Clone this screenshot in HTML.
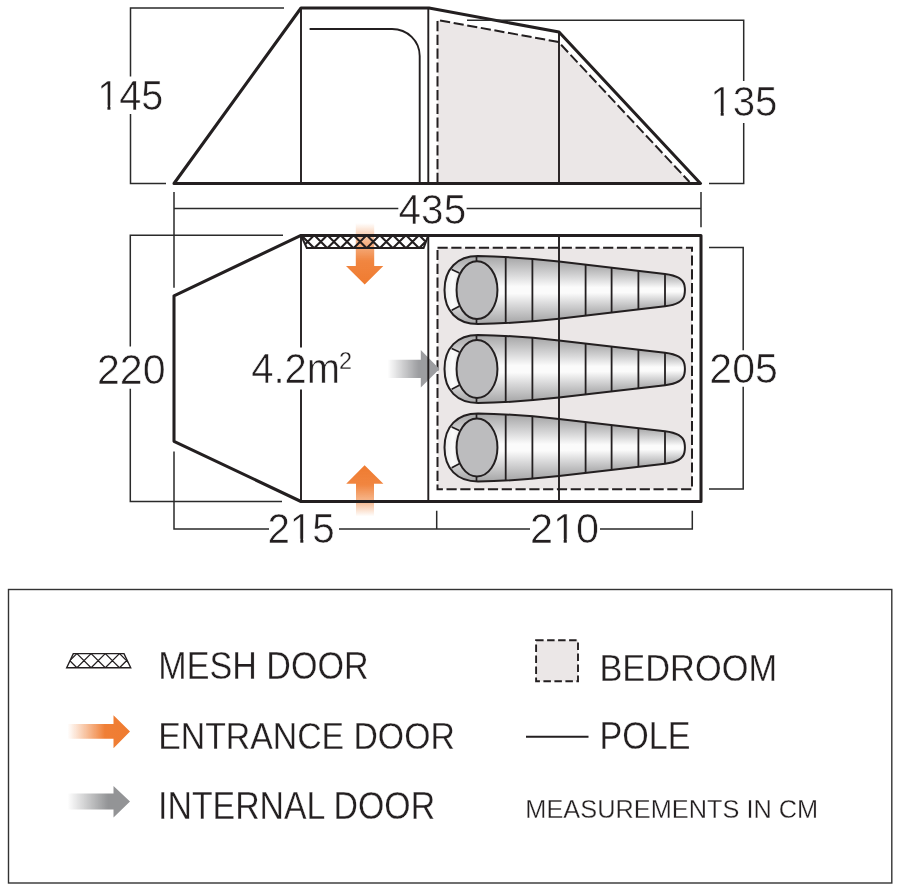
<!DOCTYPE html>
<html><head><meta charset="utf-8"><style>
html,body{margin:0;padding:0;background:#fff;width:900px;height:891px;overflow:hidden}
svg{display:block;will-change:transform}
</style></head><body>
<svg width="900" height="891" viewBox="0 0 900 891">
<defs>
<linearGradient id="bagg" x1="0" y1="0" x2="0" y2="1">
<stop offset="0" stop-color="#a2a2a3"/><stop offset="0.28" stop-color="#d8d8d9"/><stop offset="0.45" stop-color="#fbfbfb"/><stop offset="0.55" stop-color="#fbfbfb"/><stop offset="0.72" stop-color="#d8d8d9"/><stop offset="1" stop-color="#a2a2a3"/>
</linearGradient>
<linearGradient id="cresg" x1="0" y1="0" x2="1" y2="0">
<stop offset="0" stop-color="#e8e8e8"/><stop offset="0.6" stop-color="#fbfbfb"/><stop offset="1" stop-color="#f0f0f0"/>
</linearGradient>
<linearGradient id="orH" x1="0" y1="0" x2="1" y2="0">
<stop offset="0" stop-color="#f08640" stop-opacity="0"/><stop offset="0.6" stop-color="#f07f36" stop-opacity="1"/><stop offset="1" stop-color="#ef7b30"/>
</linearGradient>
<linearGradient id="grH" x1="0" y1="0" x2="1" y2="0">
<stop offset="0" stop-color="#939496" stop-opacity="0"/><stop offset="0.65" stop-color="#939496" stop-opacity="1"/><stop offset="1" stop-color="#939496"/>
</linearGradient>
<linearGradient id="orDown" x1="0" y1="0" x2="0" y2="1">
<stop offset="0" stop-color="#f08640" stop-opacity="0"/><stop offset="0.3" stop-color="#f08640" stop-opacity="0.6"/><stop offset="0.62" stop-color="#f07f36" stop-opacity="0.95"/><stop offset="1" stop-color="#ef7b30"/>
</linearGradient>
<linearGradient id="orUp" x1="0" y1="1" x2="0" y2="0">
<stop offset="0" stop-color="#f08640" stop-opacity="0"/><stop offset="0.3" stop-color="#f08640" stop-opacity="0.6"/><stop offset="0.62" stop-color="#f07f36" stop-opacity="0.95"/><stop offset="1" stop-color="#ef7b30"/>
</linearGradient>
<linearGradient id="grH2" x1="0" y1="0" x2="1" y2="0">
<stop offset="0" stop-color="#9c9da0" stop-opacity="0"/><stop offset="0.6" stop-color="#9c9da0" stop-opacity="1"/><stop offset="1" stop-color="#9c9da0"/>
</linearGradient>
<clipPath id="meshclip"><path d="M301,235.4 L428.3,235.4 L423.6,248 L306.8,248 Z"/></clipPath>
<clipPath id="meshclip2"><path d="M73.3,653.6 L124,653.6 L130.7,667.7 L66.7,667.7 Z"/></clipPath>
</defs>
<path d="M437.5,183.5 V20 L558.5,42 L691,183.5 Z" fill="#ebe7e7"/>
<path d="M437.5,183 V20 L558.5,42 L689.5,182" fill="none" stroke="#231f20" stroke-width="2" stroke-dasharray="10.2 3.6"/>
<path d="M301,8 V183.5 M428.3,8 V183.5 M559,32 V183.5 M309.6,29 H392 C407.5,29 419.7,41 419.7,56 V183.5" fill="none" stroke="#231f20" stroke-width="1.9"/>
<path d="M174,183.5 L301,8 H429 L559,32 L700.5,183.5 Z" fill="none" stroke="#231f20" stroke-width="3.05" stroke-linejoin="round"/>
<path d="M284,8 H130.5 V76.5 M130.5,114 V183.5 H166 M467,20.2 H743.7 V81 M743.7,123 V183.4 H709 M174,192 V226 M701,192 V227.2 M174,208.4 H398.3 M466.6,208.4 H701" fill="none" stroke="#2a2a2a" stroke-width="1.5"/>
<rect x="437.5" y="247.7" width="254.5" height="241.6" fill="#ebe7e7"/>
<rect x="437.5" y="247.7" width="254.5" height="241.6" fill="none" stroke="#231f20" stroke-width="2" stroke-dasharray="10.2 3.6"/>
<path d="M355.8,223 H374.2 V266 H383.3 L364.7,284.4 L346,266 H355.8 Z" fill="url(#orDown)"/>
<path d="M356,516.4 H374 V483.7 H383.4 L364.6,465.3 L346.2,483.7 H356 Z" fill="url(#orUp)"/>
<path d="M387.5,359.8 H420.8 V350.1 L439.5,369 L420.8,387.6 V378.1 H387.5 Z" fill="url(#grH2)"/>
<clipPath id="bc1"><path d="M478,256.1 C500,256.5 530,258.3 559,261.5 L665,273.90000000000003 C675,275.1 683,278.1 684.4,285.1 C685,288.1 685,292.1 684.4,295.1 C683,302.1 675,305.1 665,306.3 L559,318.70000000000005 C530,321.90000000000003 500,323.70000000000005 478,324.1 C457,324.1 444.5,311.1 444.5,290.1 C444.5,269.1 457,256.1 478,256.1 Z"/></clipPath>
<g clip-path="url(#bc1)"><rect x="440" y="255.1" width="65.7" height="70.0" fill="url(#bagg)"/><rect x="505.7" y="255.7" width="26.7" height="68.7" fill="url(#bagg)"/><rect x="532.4" y="257.5" width="26.6" height="65.1" fill="url(#bagg)"/><rect x="559" y="260.5" width="26.6" height="59.2" fill="url(#bagg)"/><rect x="585.6" y="263.6" width="26.0" height="53.0" fill="url(#bagg)"/><rect x="611.6" y="266.7" width="26.8" height="46.9" fill="url(#bagg)"/><rect x="638.4" y="269.8" width="26.6" height="40.6" fill="url(#bagg)"/><rect x="665" y="272.9" width="25.0" height="34.4" fill="url(#bagg)"/><path d="M451.7,269.5 L459.3,273.1 C452,282.1 452,298.1 459.3,306.3 L451.7,310.3 C440,300.1 440,280.1 451.7,269.5 Z" fill="url(#cresg)"/></g>
<path d="M478,256.1 C500,256.5 530,258.3 559,261.5 L665,273.90000000000003 C675,275.1 683,278.1 684.4,285.1 C685,288.1 685,292.1 684.4,295.1 C683,302.1 675,305.1 665,306.3 L559,318.70000000000005 C530,321.90000000000003 500,323.70000000000005 478,324.1 C457,324.1 444.5,311.1 444.5,290.1 C444.5,269.1 457,256.1 478,256.1 Z" fill="none" stroke="#231f20" stroke-width="2"/>
<ellipse cx="477" cy="290.1" rx="20.45" ry="28.95" fill="#bcbcbe" stroke="#231f20" stroke-width="2"/>
<path d="M451.7,269.5 L459.3,273.1 M451.7,310.3 L459.3,306.3 M476.5,256.1 V261.1 M476.5,319.1 V324.1" stroke="#231f20" stroke-width="1.7" fill="none"/>
<line x1="505.7" y1="256.7" x2="505.7" y2="323.5" stroke="#231f20" stroke-width="1.8"/>
<line x1="532.4" y1="258.5" x2="532.4" y2="321.7" stroke="#231f20" stroke-width="1.8"/>
<line x1="585.6" y1="264.6" x2="585.6" y2="315.6" stroke="#231f20" stroke-width="1.8"/>
<line x1="611.6" y1="267.7" x2="611.6" y2="312.5" stroke="#231f20" stroke-width="1.8"/>
<line x1="638.4" y1="270.8" x2="638.4" y2="309.4" stroke="#231f20" stroke-width="1.8"/>
<line x1="665" y1="273.9" x2="665" y2="306.3" stroke="#231f20" stroke-width="1.8"/>

<clipPath id="bc2"><path d="M478,335 C500,335.4 530,337.2 559,340.4 L665,352.8 C675,354 683,357 684.4,364 C685,367 685,371 684.4,374 C683,381 675,384 665,385.2 L559,397.6 C530,400.8 500,402.6 478,403 C457,403 444.5,390 444.5,369 C444.5,348 457,335 478,335 Z"/></clipPath>
<g clip-path="url(#bc2)"><rect x="440" y="334.0" width="65.7" height="70.0" fill="url(#bagg)"/><rect x="505.7" y="334.6" width="26.7" height="68.7" fill="url(#bagg)"/><rect x="532.4" y="336.4" width="26.6" height="65.1" fill="url(#bagg)"/><rect x="559" y="339.4" width="26.6" height="59.2" fill="url(#bagg)"/><rect x="585.6" y="342.5" width="26.0" height="53.0" fill="url(#bagg)"/><rect x="611.6" y="345.6" width="26.8" height="46.9" fill="url(#bagg)"/><rect x="638.4" y="348.7" width="26.6" height="40.6" fill="url(#bagg)"/><rect x="665" y="351.8" width="25.0" height="34.4" fill="url(#bagg)"/><path d="M451.7,348.4 L459.3,352 C452,361 452,377 459.3,385.2 L451.7,389.2 C440,379 440,359 451.7,348.4 Z" fill="url(#cresg)"/></g>
<path d="M478,335 C500,335.4 530,337.2 559,340.4 L665,352.8 C675,354 683,357 684.4,364 C685,367 685,371 684.4,374 C683,381 675,384 665,385.2 L559,397.6 C530,400.8 500,402.6 478,403 C457,403 444.5,390 444.5,369 C444.5,348 457,335 478,335 Z" fill="none" stroke="#231f20" stroke-width="2"/>
<ellipse cx="477" cy="369" rx="20.45" ry="28.95" fill="#bcbcbe" stroke="#231f20" stroke-width="2"/>
<path d="M451.7,348.4 L459.3,352 M451.7,389.2 L459.3,385.2 M476.5,335 V340 M476.5,398 V403" stroke="#231f20" stroke-width="1.7" fill="none"/>
<line x1="505.7" y1="335.6" x2="505.7" y2="402.4" stroke="#231f20" stroke-width="1.8"/>
<line x1="532.4" y1="337.4" x2="532.4" y2="400.6" stroke="#231f20" stroke-width="1.8"/>
<line x1="585.6" y1="343.5" x2="585.6" y2="394.5" stroke="#231f20" stroke-width="1.8"/>
<line x1="611.6" y1="346.6" x2="611.6" y2="391.4" stroke="#231f20" stroke-width="1.8"/>
<line x1="638.4" y1="349.7" x2="638.4" y2="388.3" stroke="#231f20" stroke-width="1.8"/>
<line x1="665" y1="352.8" x2="665" y2="385.2" stroke="#231f20" stroke-width="1.8"/>

<clipPath id="bc3"><path d="M478,413.5 C500,413.9 530,415.7 559,418.9 L665,431.3 C675,432.5 683,435.5 684.4,442.5 C685,445.5 685,449.5 684.4,452.5 C683,459.5 675,462.5 665,463.7 L559,476.1 C530,479.3 500,481.1 478,481.5 C457,481.5 444.5,468.5 444.5,447.5 C444.5,426.5 457,413.5 478,413.5 Z"/></clipPath>
<g clip-path="url(#bc3)"><rect x="440" y="412.5" width="65.7" height="70.0" fill="url(#bagg)"/><rect x="505.7" y="413.1" width="26.7" height="68.7" fill="url(#bagg)"/><rect x="532.4" y="414.9" width="26.6" height="65.1" fill="url(#bagg)"/><rect x="559" y="417.9" width="26.6" height="59.2" fill="url(#bagg)"/><rect x="585.6" y="421.0" width="26.0" height="53.0" fill="url(#bagg)"/><rect x="611.6" y="424.1" width="26.8" height="46.9" fill="url(#bagg)"/><rect x="638.4" y="427.2" width="26.6" height="40.6" fill="url(#bagg)"/><rect x="665" y="430.3" width="25.0" height="34.4" fill="url(#bagg)"/><path d="M451.7,426.9 L459.3,430.5 C452,439.5 452,455.5 459.3,463.7 L451.7,467.7 C440,457.5 440,437.5 451.7,426.9 Z" fill="url(#cresg)"/></g>
<path d="M478,413.5 C500,413.9 530,415.7 559,418.9 L665,431.3 C675,432.5 683,435.5 684.4,442.5 C685,445.5 685,449.5 684.4,452.5 C683,459.5 675,462.5 665,463.7 L559,476.1 C530,479.3 500,481.1 478,481.5 C457,481.5 444.5,468.5 444.5,447.5 C444.5,426.5 457,413.5 478,413.5 Z" fill="none" stroke="#231f20" stroke-width="2"/>
<ellipse cx="477" cy="447.5" rx="20.45" ry="28.95" fill="#bcbcbe" stroke="#231f20" stroke-width="2"/>
<path d="M451.7,426.9 L459.3,430.5 M451.7,467.7 L459.3,463.7 M476.5,413.5 V418.5 M476.5,476.5 V481.5" stroke="#231f20" stroke-width="1.7" fill="none"/>
<line x1="505.7" y1="414.1" x2="505.7" y2="480.9" stroke="#231f20" stroke-width="1.8"/>
<line x1="532.4" y1="415.9" x2="532.4" y2="479.1" stroke="#231f20" stroke-width="1.8"/>
<line x1="585.6" y1="422.0" x2="585.6" y2="473.0" stroke="#231f20" stroke-width="1.8"/>
<line x1="611.6" y1="425.1" x2="611.6" y2="469.9" stroke="#231f20" stroke-width="1.8"/>
<line x1="638.4" y1="428.2" x2="638.4" y2="466.8" stroke="#231f20" stroke-width="1.8"/>
<line x1="665" y1="431.3" x2="665" y2="463.7" stroke="#231f20" stroke-width="1.8"/>

<path d="M301,235.4 V347.6 M301,389.4 V501.5 M428.3,235.4 V501.5 M559,235.4 V501.5" fill="none" stroke="#231f20" stroke-width="1.9"/>
<path clip-path="url(#meshclip)" d="M288.00,235.10 L301.20,248.30 M288.00,248.30 L301.20,235.10 M301.10,235.10 L314.30,248.30 M301.10,248.30 L314.30,235.10 M314.20,235.10 L327.40,248.30 M314.20,248.30 L327.40,235.10 M327.30,235.10 L340.50,248.30 M327.30,248.30 L340.50,235.10 M340.40,235.10 L353.60,248.30 M340.40,248.30 L353.60,235.10 M353.50,235.10 L366.70,248.30 M353.50,248.30 L366.70,235.10 M366.60,235.10 L379.80,248.30 M366.60,248.30 L379.80,235.10 M379.70,235.10 L392.90,248.30 M379.70,248.30 L392.90,235.10 M392.80,235.10 L406.00,248.30 M392.80,248.30 L406.00,235.10 M405.90,235.10 L419.10,248.30 M405.90,248.30 L419.10,235.10 M419.00,235.10 L432.20,248.30 M419.00,248.30 L432.20,235.10 " fill="none" stroke="#231f20" stroke-width="2.1"/>
<path d="M301,235.4 L306.8,248 H423.6 L428.3,235.4" fill="none" stroke="#231f20" stroke-width="2"/>
<path d="M301,235.4 L174,295.8 V441.3 L301,501.5 H701 V235.4 Z" fill="none" stroke="#231f20" stroke-width="3.05" stroke-linejoin="round"/>
<path d="M283,235.3 H130.3 V346.5 M130.3,388.7 V501.4 H282 M174,226 V287.7 M174,451.6 V529 H269 M339,529 H530 M600,529 H692.3 V510.7 M436.7,510.7 V529 M709,247.6 H743.2 V350.2 M743.2,386.8 V489 H709" fill="none" stroke="#2a2a2a" stroke-width="1.5"/>
<g transform="translate(97.23,109.68) scale(0.9336,1)"><text font-size="42.43" fill="#231f20" stroke="#fff" stroke-width="0.6" font-family="Liberation Sans, sans-serif">145</text><rect x="2.12" y="-4.24" width="8.83" height="4.67" fill="#fff"/><rect x="14.13" y="-4.24" width="8.49" height="4.67" fill="#fff"/></g>
<g transform="translate(710.27,116.08) scale(0.9639,1)"><text font-size="41.83" fill="#231f20" stroke="#fff" stroke-width="0.6" font-family="Liberation Sans, sans-serif">135</text><rect x="2.09" y="-4.18" width="8.70" height="4.60" fill="#fff"/><rect x="13.93" y="-4.18" width="8.37" height="4.60" fill="#fff"/></g>
<g transform="translate(398.59,224.27) scale(0.9489,1)"><text font-size="42.68" fill="#231f20" stroke="#fff" stroke-width="0.6" font-family="Liberation Sans, sans-serif">435</text></g>
<g transform="translate(96.94,383.58) scale(0.9736,1)"><text font-size="42.25" fill="#231f20" stroke="#fff" stroke-width="0.6" font-family="Liberation Sans, sans-serif">220</text></g>
<g transform="translate(709.35,383.38) scale(0.9706,1)"><text font-size="42.25" fill="#231f20" stroke="#fff" stroke-width="0.6" font-family="Liberation Sans, sans-serif">205</text></g>
<g transform="translate(267.38,542.88) scale(0.9572,1)"><text font-size="42.25" fill="#231f20" stroke="#fff" stroke-width="0.6" font-family="Liberation Sans, sans-serif">215</text><rect x="25.60" y="-4.22" width="8.79" height="4.65" fill="#fff"/><rect x="37.56" y="-4.22" width="8.45" height="4.65" fill="#fff"/></g>
<g transform="translate(529.93,543.07) scale(0.9714,1)"><text font-size="42.68" fill="#231f20" stroke="#fff" stroke-width="0.6" font-family="Liberation Sans, sans-serif">210</text><rect x="25.86" y="-4.27" width="8.88" height="4.69" fill="#fff"/><rect x="37.94" y="-4.27" width="8.54" height="4.69" fill="#fff"/></g>
<g transform="translate(251.2,383.4) scale(0.9524,1)"><text font-size="42.0" fill="#231f20" stroke="#fff" stroke-width="0.6" font-family="Liberation Sans, sans-serif">4.2m</text></g>
<g transform="translate(339.03,369.4) scale(0.95,1)"><text font-size="24.71" fill="#231f20" stroke="#fff" stroke-width="0.3" font-family="Liberation Sans, sans-serif">2</text></g>
<rect x="8.5" y="589.5" width="883.3" height="293.5" fill="none" stroke="#333" stroke-width="1.4"/>
<path clip-path="url(#meshclip2)" d="M62.75,653.60 L76.85,667.70 M62.75,667.70 L76.85,653.60 M76.95,653.60 L91.05,667.70 M76.95,667.70 L91.05,653.60 M91.15,653.60 L105.25,667.70 M91.15,667.70 L105.25,653.60 M105.35,653.60 L119.45,667.70 M105.35,667.70 L119.45,653.60 M119.55,653.60 L133.65,667.70 M119.55,667.70 L133.65,653.60 M133.75,653.60 L147.85,667.70 M133.75,667.70 L147.85,653.60 " fill="none" stroke="#231f20" stroke-width="1.3"/>
<path d="M73.3,653.6 L124,653.6 L130.7,667.7 L66.7,667.7 Z" fill="none" stroke="#231f20" stroke-width="1.4"/>
<path d="M67.5,724 H113.5 V715.3 L130,731.5 L113.5,748.2 V738.7 H67.5 Z" fill="url(#orH)"/>
<path d="M67.5,793.4 H113.5 V786 L130,801.5 L113.5,817.5 V809.5 H67.5 Z" fill="url(#grH)"/>
<rect x="536.1" y="640.3" width="41.9" height="41" fill="#ebe7e7" stroke="#231f20" stroke-width="1.9" stroke-dasharray="7.5 3.5"/>
<line x1="526" y1="736.7" x2="588.5" y2="736.7" stroke="#231f20" stroke-width="2"/>
<g transform="translate(158.37,678.52) scale(0.8999,1)"><text font-size="37.89" fill="#231f20" stroke="#fff" stroke-width="0.3" font-family="Liberation Sans, sans-serif">MESH DOOR</text></g>
<g transform="translate(158.3,748.72) scale(0.895,1)"><text font-size="37.75" fill="#231f20" stroke="#fff" stroke-width="0.3" font-family="Liberation Sans, sans-serif">ENTRANCE DOOR</text></g>
<g transform="translate(158.05,818.52) scale(0.8936,1)"><text font-size="37.89" fill="#231f20" stroke="#fff" stroke-width="0.3" font-family="Liberation Sans, sans-serif">INTERNAL DOOR</text></g>
<g transform="translate(599.45,681.12) scale(0.9106,1)"><text font-size="37.75" fill="#231f20" stroke="#fff" stroke-width="0.3" font-family="Liberation Sans, sans-serif">BEDROOM</text></g>
<g transform="translate(599.47,749.32) scale(0.8999,1)"><text font-size="37.89" fill="#231f20" stroke="#fff" stroke-width="0.3" font-family="Liberation Sans, sans-serif">POLE</text></g>
<g transform="translate(525.37,818.14) scale(0.9675,1)"><text font-size="26.2" fill="#231f20" stroke="#fff" stroke-width="0.3" font-family="Liberation Sans, sans-serif">MEASUREMENTS IN CM</text></g>
</svg>
</body></html>
